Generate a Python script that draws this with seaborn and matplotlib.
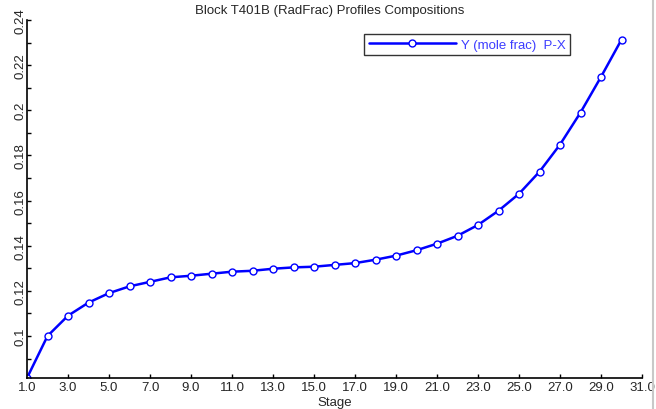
import numpy as np
import pandas as pd
import matplotlib
matplotlib.use("Agg")
import matplotlib.pyplot as plt
import seaborn as sns
from matplotlib.ticker import MultipleLocator, FormatStrFormatter
from matplotlib.lines import Line2D

# data
stage = list(range(1, 31))
y_frac = [0.0814, 0.1000, 0.1090, 0.1148, 0.1190, 0.1220, 0.1240, 0.1260,
          0.1267, 0.1276, 0.1285, 0.1289, 0.1298, 0.1304, 0.1307, 0.1315,
          0.1323, 0.1338, 0.1356, 0.1380, 0.1409, 0.1444, 0.1492, 0.1555,
          0.1630, 0.1728, 0.1848, 0.1990, 0.2148, 0.2313]
y_ticks = [0.1, 0.12, 0.14, 0.16, 0.18, 0.2, 0.22, 0.24]
y_tick_labels = ["0.1", "0.12", "0.14", "0.16", "0.18", "0.2", "0.22", "0.24"]
x_ticks = list(range(1, 32, 2))

df = pd.DataFrame({"Stage": stage, "Y": y_frac})

sns.set_style("ticks")
plt.rcParams["font.family"] = ["Liberation Sans", "DejaVu Sans"]

W, H = 656, 410
fig = plt.figure(figsize=(W / 100, H / 100), dpi=100)
ax = fig.add_axes([27 / W, (H - 379) / H, (642 - 27) / W, (379 - 21) / H])

sns.lineplot(data=df, x="Stage", y="Y", ax=ax, color="#0000ff", linewidth=1.8,
             marker="o", markersize=5, markerfacecolor="white",
             markeredgecolor="#0000ff", markeredgewidth=1,
             label="Y (mole frac)  P-X")

ax.set_xlim(1, 31)
ax.set_ylim(0.0814, 0.24)
ax.set_xticks(x_ticks)
ax.xaxis.set_major_formatter(FormatStrFormatter("%.1f"))
ax.set_yticks(y_ticks)
ax.set_yticklabels(y_tick_labels, rotation=90, va="center")
ax.yaxis.set_minor_locator(MultipleLocator(0.01))
ax.tick_params(axis="both", which="both", direction="in", length=3,
               width=1, labelsize=9.5, pad=2, color="black")
ax.tick_params(axis="y", which="both", pad=0)
for s in ["top", "right"]:
    ax.spines[s].set_visible(False)
for s in ["left", "bottom"]:
    ax.spines[s].set_linewidth(1.2)
    ax.spines[s].set_color("black")

ax.set_xlabel("Stage", fontsize=9.5, labelpad=2.5)
ax.set_ylabel("")
fig.text(330 / W, 1 - 11 / H, "Block T401B (RadFrac) Profiles Compositions",
         ha="center", va="center", fontsize=9.5)

leg = ax.legend(loc="upper left", bbox_to_anchor=((364 - 27) / (642 - 27), (379 - 35) / (379 - 21)),
                frameon=True, fancybox=False, fontsize=9.5, handlelength=6.6,
                borderpad=0.35, handletextpad=0.4, borderaxespad=0)
leg.get_frame().set_edgecolor("black")
leg.get_frame().set_linewidth(1)
for t in leg.get_texts():
    t.set_color("#3c3cff")

fig.add_artist(Line2D([653 / W, 653 / W], [0, 1], color="#c8c8c8", linewidth=1.5))

fig.savefig("out.png", dpi=100)
